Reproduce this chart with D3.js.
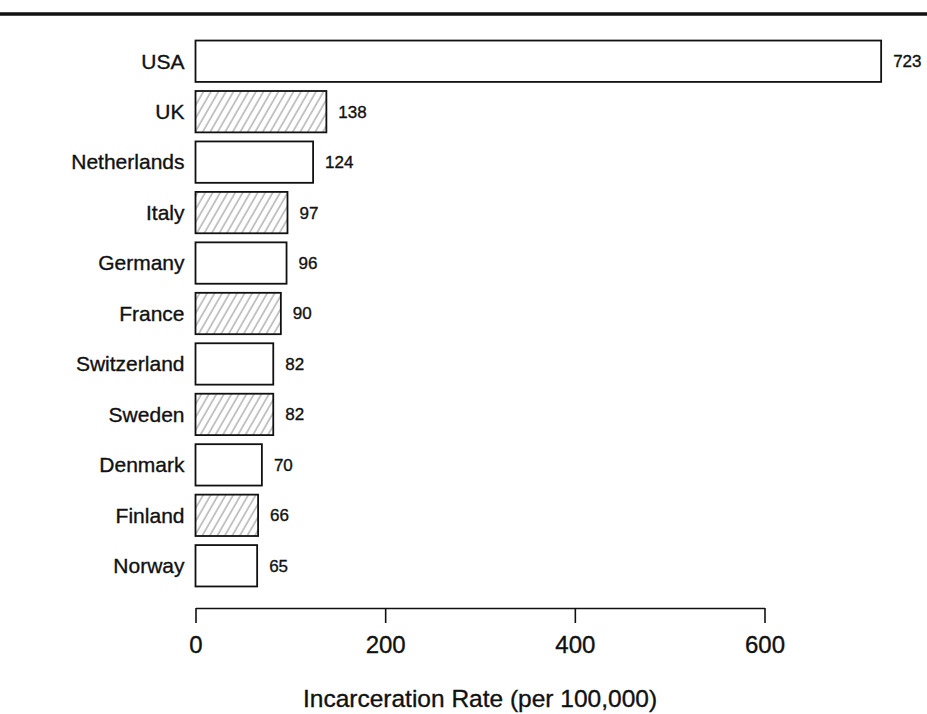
<!DOCTYPE html>
<html>
<head>
<meta charset="utf-8">
<script src="https://cdn.jsdelivr.net/npm/d3@7"></script>
<style>
  body { margin: 0; background: #fff; }
  svg text { font-family: "Liberation Sans", Arial, Helvetica, sans-serif; fill: #111; stroke: #111; stroke-width: 0.35px; }
</style>
</head>
<body>
<svg id="chart" width="927" height="714"></svg>
<script>
'use strict';

// data
const countries = ['USA', 'UK', 'Netherlands', 'Italy', 'Germany', 'France',
  'Switzerland', 'Sweden', 'Denmark', 'Finland', 'Norway'];
const rates = [723, 138, 124, 97, 96, 90, 82, 82, 70, 66, 65];
const hatched = [false, true, false, true, false, true, false, true, false, true, false];
const xTicks = [0, 200, 400, 600];
const xTitle = 'Incarceration Rate (per 100,000)';

const svg = d3.select('#chart');

// hatch pattern for every second bar
svg.append('defs').append('pattern')
  .attr('id', 'hatch')
  .attr('patternUnits', 'userSpaceOnUse')
  .attr('width', 6.5)
  .attr('height', 10)
  .attr('patternTransform', 'rotate(30)')
  .append('line')
  .attr('x1', 1).attr('y1', 0)
  .attr('x2', 1).attr('y2', 10)
  .attr('stroke', '#7a7a7a')
  .attr('stroke-width', 0.9);

// thick rule across the top of the page
svg.append('line')
  .attr('x1', 0).attr('x2', 927)
  .attr('y1', 14).attr('y2', 14)
  .attr('stroke', '#111')
  .attr('stroke-width', 3.5);

// scales
const xScale = d3.scaleLinear().domain([0, 600]).range([195.5, 764.5]);
const yScale = d3.scaleBand()
  .domain(countries)
  .range([36, 591])
  .paddingInner(0.18)
  .paddingOuter(0.09);

const rows = countries.map((c, i) => ({ country: c, rate: rates[i], hatch: hatched[i] }));

// bars
svg.selectAll('rect.bar').data(rows).enter().append('rect')
  .attr('class', 'bar')
  .attr('x', xScale(0))
  .attr('y', d => yScale(d.country))
  .attr('width', d => xScale(d.rate) - xScale(0))
  .attr('height', yScale.bandwidth())
  .attr('fill', d => d.hatch ? 'url(#hatch)' : '#fff')
  .attr('stroke', '#111')
  .attr('stroke-width', 1.8);

// country names
svg.selectAll('text.name').data(rows).enter().append('text')
  .attr('class', 'name')
  .attr('x', xScale(0) - 11)
  .attr('y', d => yScale(d.country) + yScale.bandwidth() / 2)
  .attr('dy', '0.35em')
  .attr('text-anchor', 'end')
  .style('font-size', '21px')
  .text(d => d.country);

// value labels
svg.selectAll('text.val').data(rows).enter().append('text')
  .attr('class', 'val')
  .attr('x', d => xScale(d.rate) + 12)
  .attr('y', d => yScale(d.country) + yScale.bandwidth() / 2)
  .attr('dy', '0.35em')
  .style('font-size', '17px')
  .text(d => d.rate);

// x axis, drawn R style: line from first to last tick, ticks hanging down
const axis = svg.append('g')
  .attr('transform', 'translate(0,608)')
  .call(d3.axisBottom(xScale).tickValues(xTicks).tickSize(15).tickPadding(13).tickSizeOuter(0));
axis.select('.domain').attr('stroke', '#111').attr('stroke-width', 1.6);
axis.selectAll('.tick line').attr('stroke', '#111').attr('stroke-width', 1.6);
axis.selectAll('.tick text')
  .style('font-size', '24px')
  .style('font-family', '"Liberation Sans", Arial, sans-serif')
  .attr('fill', '#111');

// axis title
svg.append('text')
  .attr('x', (xScale(0) + xScale(600)) / 2)
  .attr('y', 707)
  .attr('text-anchor', 'middle')
  .style('font-size', '24.5px')
  .text(xTitle);
</script>
</body>
</html>
